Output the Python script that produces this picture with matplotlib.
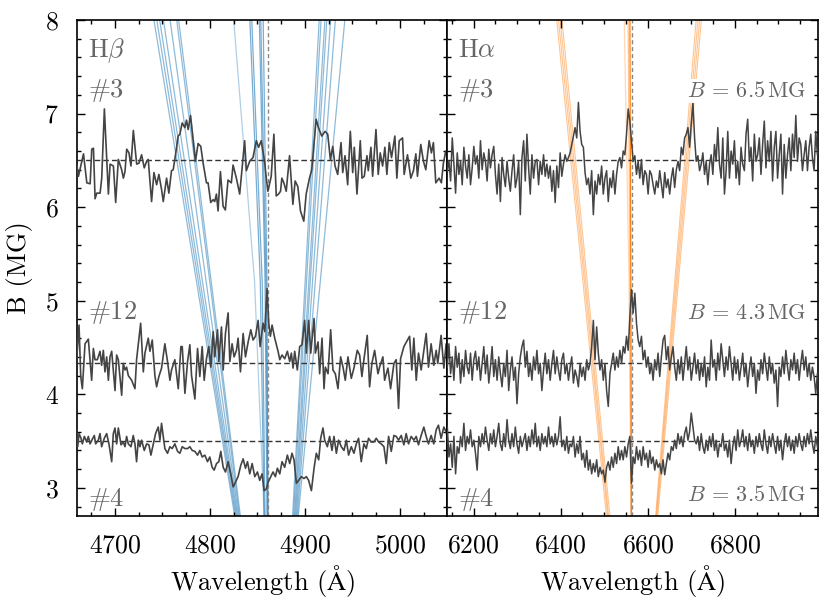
import numpy as np
import matplotlib
matplotlib.use('Agg')
import matplotlib.pyplot as plt
from matplotlib.ticker import MultipleLocator

plt.rcParams['font.family'] = 'serif'
plt.rcParams['font.serif'] = ['cmr10']
plt.rcParams['mathtext.fontset'] = 'cm'
plt.rcParams['axes.formatter.use_mathtext'] = True
plt.rcParams['axes.unicode_minus'] = False

# field strengths (MG) of the three spectra
fields = [6.5, 4.33, 3.5]
spec_names = ['#3', '#12', '#4']
field_labels = ['6.5', '4.3', '3.5']

hb_rest = 4861.3
ha_rest = 6562.8

# ---- H beta spectra (wavelength, offset from continuum in MG units)
hb3_wave = [4660, 4661.5, 4666.8, 4670.3, 4673.8, 4675.5, 4677.3, 4679, 4680.8, 4684.3,
            4686, 4688.8, 4693, 4694.8, 4698.3, 4700.7, 4703.5, 4707, 4708.8, 4710.5,
            4712.3, 4714.7, 4716.8, 4719.3, 4722.8, 4725.2, 4728, 4730.8, 4733.3, 4735,
            4738.5, 4741, 4743.8, 4746.2, 4749, 4750.8, 4754.3, 4756.7, 4759.5, 4761.3,
            4763.7, 4766.5, 4768.3, 4770.7, 4773.5, 4775.3, 4777, 4779.5, 4782.3, 4784.7,
            4787.5, 4790.3, 4792.8, 4796.3, 4798, 4800.8, 4803.3, 4805, 4806.8, 4808.5,
            4811, 4813.8, 4816.2, 4819, 4822.5, 4824.3, 4827.8, 4831.3, 4836.5, 4838.3,
            4841.8, 4845.3, 4848.8, 4851.2, 4854, 4857.5, 4859.3, 4861, 4864.5, 4867.3,
            4869.8, 4872.2, 4874.3, 4875.7, 4877.8, 4880.3, 4883.8, 4887.3, 4889.7, 4892.5,
            4895.3, 4898.8, 4901.3, 4904.8, 4907.2, 4911.8, 4914.2, 4917.7, 4921.2, 4924,
            4926.8, 4929.3, 4931.7, 4934.5, 4938, 4939.8, 4942.2, 4945, 4947.8, 4950.3,
            4952, 4954.8, 4958.3, 4960.1, 4962.5, 4965.3, 4966.7, 4969.5, 4971.3, 4974.8,
            4977.2, 4979.3, 4981.8, 4984.2, 4986.3, 4988.8, 4991.2, 4994.7, 4996.8, 4999.3,
            5002.8, 5004.5, 5008, 5011.5, 5014.3, 5016.8, 5018.5, 5022, 5024.8, 5027.3,
            5030.8, 5033.2, 5035.3, 5037.8, 5041.3, 5043.7, 5045.8, 5048.3, 5050.7]
hb3_flux = [-0.06, -0.17, 0.07, -0.24, -0.25, 0.12, 0.13, -0.41, -0.35, -0.35,
            -0.19, 0.55, -0.36, -0.04, -0.06, -0.45, 0.01, -0.10, -0.19, -0.12,
            0.12, 0.08, -0.06, 0.32, -0.04, -0.03, 0.06, -0.08, -0.01, 0.01,
            -0.44, -0.13, -0.26, -0.15, -0.31, -0.44, -0.19, -0.35, -0.11, -0.10,
            0.06, 0.26, 0.28, 0.40, 0.35, 0.43, 0.33, 0.48, 0.21, -0.01,
            0.18, 0.15, -0.03, -0.24, -0.24, -0.45, -0.42, -0.44, -0.36, -0.54,
            -0.12, -0.49, -0.53, -0.21, -0.24, -0.05, -0.19, -0.36, 0.21, -0.11,
            -0.01, 0.03, 0.21, 0.14, 0.21, -0.01, -0.19, -0.33, -0.17, 0.28,
            -0.38, -0.36, -0.33, -0.19, -0.24, -0.33, 0.05, -0.47, -0.22, -0.28,
            -0.54, -0.65, -0.36, -0.19, -0.10, 0.44, 0.35, 0.26, 0.31, 0.28,
            0.01, 0.15, -0.06, -0.15, 0.19, -0.13, 0.05, -0.26, 0.31, -0.13,
            0.14, -0.36, 0.21, -0.19, -0.17, 0.05, -0.11, 0.14, -0.17, 0.33,
            -0.15, 0.08, -0.06, 0.14, -0.15, 0.19, 0.03, 0.26, -0.19, 0.21,
            0.24, -0.15, 0.06, -0.19, -0.11, 0.07, -0.17, 0.17, -0.01, -0.10,
            0.21, 0.08, 0.19, -0.24, -0.19, -0.24, -0.03, 0.10, -0.01]

hb12_wave = [4659, 4662.1, 4663.9, 4665.6, 4668.4, 4671.9, 4673.7, 4675.4, 4677.2, 4678.9,
             4681.4, 4684.2, 4685.9, 4687.7, 4689.4, 4691.2, 4693, 4694.7, 4696.5, 4698.2,
             4700, 4701.7, 4703.5, 4707, 4708.7, 4710.5, 4712.2, 4714, 4717.5, 4721,
             4722.7, 4727, 4729.8, 4731.5, 4735, 4736.8, 4739.2, 4742, 4743.8, 4746.2,
             4749, 4752.5, 4755.3, 4757.8, 4759.5, 4763, 4766.6, 4769.4, 4770.8, 4773.6,
             4776.4, 4778.8, 4780.6, 4784.1, 4786.9, 4789.3, 4791.8, 4793.9, 4796.3, 4798.8,
             4800.9, 4803.4, 4805.1, 4807.9, 4809.3, 4812.1, 4813.9, 4816.3, 4819.1, 4820.9,
             4823.3, 4825.4, 4827.9, 4829.6, 4832.1, 4834.9, 4837.4, 4840.2, 4843, 4845.4,
             4847.9, 4850.7, 4852.8, 4855.9, 4857.7, 4860.1, 4861.9, 4863.6, 4865.4, 4868.2,
             4871.7, 4873.5, 4875.9, 4878.7, 4881.5, 4884, 4885.7, 4887.5, 4889.2, 4892,
             4894.5, 4896.9, 4899.7, 4901.5, 4903.9, 4906.1, 4909.6, 4911, 4913.8, 4915.5,
             4918, 4920.1, 4921.5, 4924.3, 4927.1, 4929.5, 4932, 4934.8, 4937.6, 4940.1,
             4942.5, 4945.3, 4948.8, 4951.6, 4955.1, 4957.6, 4960, 4962.1, 4965.6, 4968.1,
             4970.5, 4973.4, 4976.9, 4978.6, 4982.1, 4983.9, 4987.4, 4990.2, 4993.7, 4996.1,
             4998.6, 5000.7, 5004.2, 5010.2, 5012.6, 5014.7, 5017.2, 5019.6, 5022.4, 5027.7,
             5030.1, 5032.9, 5035.7, 5038.2, 5039.9, 5043.4, 5046.3, 5048.7, 5051.2]
hb12_flux = [-0.05, 0.41, -0.14, -0.27, 0.21, 0.26, 0.04, -0.18, 0.16, 0.04,
             0.04, 0.13, -0.02, 0.14, -0.09, 0.07, -0.18, 0.07, 0.13, -0.07,
             -0.29, 0.09, 0.04, -0.34, 0, -0.07, -0.04, -0.13, -0.18, -0.27,
             0.04, 0.43, -0.09, 0.11, 0.27, 0.13, 0.25, -0.13, -0.25, -0.14,
             -0.05, 0.21, 0.02, -0.18, -0.07, 0.04, -0.27, 0.18, 0.18, -0.32,
             0.02, 0.20, -0.13, -0.38, 0.16, -0.14, 0.18, -0.18, 0.05, 0.18,
             -0.04, 0.34, 0.07, 0.36, 0.02, 0.39, -0.07, 0.32, 0.54, 0.02,
             0.21, 0.07, 0.14, 0.27, -0.09, 0.32, 0.07, 0.23, 0.36, 0.25,
             0.29, 0.46, 0.18, 0.43, 0.34, 0.80, 0.43, 0.29, 0.41, 0.27,
             0.13, 0.04, 0.09, 0.05, 0.13, 0.02, 0.11, -0.05, 0.13, -0.07,
             0.18, 0.20, 0.46, 0.11, 0.46, 0.11, 0.48, 0.11, 0.23, -0.11,
             0.27, -0.27, -0.04, -0.11, 0.36, -0.07, -0.11, -0.27, 0.07, -0.04,
             -0.18, 0.07, -0.16, -0.05, 0.14, 0.09, -0.14, 0.04, 0.30, -0.25,
             0, 0.14, -0.11, -0.04, 0.07, -0.18, -0.05, -0.27, 0, 0.04,
             -0.48, 0.05, 0.18, 0.29, -0.07, 0.27, -0.18, 0.11, -0.07, 0.32,
             -0.04, 0.21, -0.02, 0.14, 0, 0.30, -0.05, 0.21, -0.02]

hb4_wave = [4658.9, 4660.7, 4662.1, 4664.2, 4665.6, 4667.7, 4670.2, 4671.9, 4673.7, 4676.1,
            4678.2, 4679.6, 4682.4, 4684.2, 4685.9, 4688.7, 4691.2, 4693.6, 4696.5, 4698.2,
            4700, 4701.7, 4703.5, 4706.3, 4708.7, 4710.5, 4712.2, 4714, 4716.8, 4719.2,
            4721, 4722.7, 4724.5, 4726.2, 4728, 4730.8, 4733.3, 4735.7, 4737.8, 4740.3,
            4742.7, 4745.5, 4747.3, 4749, 4750.8, 4752.5, 4755.3, 4757.8, 4760.2, 4763,
            4765.9, 4768.3, 4770.8, 4773.6, 4776.4, 4778.8, 4781.3, 4784.1, 4786.9, 4789.3,
            4791.8, 4794.6, 4797.4, 4799.8, 4802.3, 4804.4, 4806.9, 4809.3, 4811.4, 4813.9,
            4816.3, 4819.1, 4821.9, 4824.4, 4826.8, 4829.6, 4832.4, 4834.9, 4837.4, 4839.5,
            4841.9, 4844.4, 4847.2, 4850, 4852.4, 4854.9, 4857, 4859.4, 4861.2, 4864,
            4866.4, 4868.9, 4871, 4873.5, 4875.9, 4878.7, 4881.5, 4884, 4886.4, 4888.5,
            4891, 4893.4, 4896.2, 4899, 4901.5, 4903.9, 4906.8, 4909.6, 4912, 4914.5,
            4916.6, 4919, 4920.8, 4923.6, 4926, 4928.5, 4930.6, 4933.1, 4935.5, 4938.3,
            4941.1, 4943.6, 4946, 4948.8, 4951.6, 4954.1, 4956.5, 4959.3, 4962.1, 4964.6,
            4967, 4969.8, 4972.6, 4975.1, 4977.6, 4980.4, 4983.2, 4985.6, 4988.1, 4990.9,
            4993.7, 4996.1, 4998.6, 5001.4, 5004.2, 5006.6, 5009.1, 5011.9, 5014.7, 5017.2,
            5019.6, 5022.4, 5025.2, 5027.7, 5030.1, 5032.9, 5035.7, 5038.2, 5040.6, 5043.4,
            5046.3, 5048.7, 5051.2]
hb4_flux = [0.19, -0.06, 0.08, 0.03, -0.03, 0.05, -0.01, 0.05, -0.03, 0.02,
            0.06, -0.03, 0.01, 0.08, -0.06, 0.03, 0.08, -0.03, -0.22, 0.08,
            0.14, -0.03, 0.14, -0.04, -0.01, -0.06, 0.05, -0.03, -0.06, 0.06,
            -0.03, -0.22, 0.01, -0.06, 0.01, -0.10, -0.03, -0.04, -0.15, -0.03,
            0.08, 0.15, 0.01, 0.19, 0.05, -0.08, -0.13, -0.06, -0.08, -0.03,
            -0.11, -0.13, -0.06, -0.08, -0.08, -0.06, -0.10, -0.11, -0.15, -0.10,
            -0.17, -0.15, -0.22, -0.17, -0.28, -0.31, -0.24, -0.22, -0.11, -0.28,
            -0.33, -0.22, -0.35, -0.49, -0.44, -0.38, -0.26, -0.19, -0.29, -0.22,
            -0.35, -0.24, -0.38, -0.33, -0.42, -0.35, -0.53, -0.51, -0.44, -0.38,
            -0.33, -0.38, -0.29, -0.35, -0.22, -0.28, -0.15, -0.24, -0.13, -0.20,
            -0.45, -0.42, -0.38, -0.40, -0.38, -0.42, -0.53, -0.29, -0.13, -0.20,
            0.03, 0.14, 0.01, -0.06, 0.05, -0.10, 0.05, -0.13, 0.01, -0.06,
            -0.10, 0.01, -0.15, -0.06, -0.13, -0.03, 0.03, -0.22, -0.03, -0.08,
            0.03, -0.01, -0.01, 0.03, -0.01, -0.03, -0.06, -0.24, 0.05, -0.11,
            0.06, 0.05, 0.01, 0.06, -0.04, 0.08, -0.03, 0.05, 0.01, 0.05,
            -0.04, 0.06, 0.15, 0.05, -0.03, 0.06, -0.03, 0.12, 0.17, 0.03,
            0.15, 0.10, -0.03]

# ---- H alpha spectra, sampled on a uniform wavelength grid
ha_wave_start, ha_wave_end, ha_npix = 6139.8, 6989.3, 224
ha3_flux = [-0.11, -0.01, -0.22, 0.24, -0.04, -0.35, 0.08, -0.15, -0.01, -0.26,
            0.14, -0.06, -0.19, 0.06, -0.26, -0.08, 0.15, -0.04, 0.05, -0.19,
            0.21, -0.10, 0.08, -0.01, -0.22, 0.12, -0.08, 0.06, 0.15, -0.15,
            -0.36, -0.04, -0.44, 0.03, -0.15, -0.28, -0.01, -0.19, -0.33, -0.11,
            0.06, -0.29, -0.19, -0.01, -0.58, 0.03, 0.21, -0.22, 0.28, -0.08,
            -0.36, 0.06, -0.19, -0.01, 0.01, -0.26, -0.01, -0.15, 0.06, -0.17,
            -0.04, -0.19, -0.06, -0.33, -0.11, -0.45, -0.06, -0.29, 0.08, -0.17,
            -0.04, 0.06, -0.01, 0.03, 0.08, 0.17, 0.26, 0.35, 0.24, 0.62,
            0.31, 0.17, 0.14, -0.13, -0.26, -0.19, -0.36, -0.11, -0.58, -0.22,
            -0.36, -0.15, -0.26, -0.06, -0.36, -0.19, -0.11, -0.44, -0.19, -0.29,
            -0.11, -0.36, -0.15, -0.01, 0.03, -0.08, 0.10, 0.06, 0.28, 0.55,
            0.42, 0.21, -0.01, 0.05, -0.15, -0.01, -0.19, 0.01, -0.26, -0.11,
            -0.15, -0.36, -0.11, -0.15, -0.26, -0.36, -0.22, -0.29, -0.11, -0.26,
            -0.40, -0.13, -0.29, -0.20, -0.36, -0.19, -0.08, -0.29, -0.10, -0.01,
            -0.11, 0.14, 0.06, 0.24, 0.28, 0.35, 0.14, 0.39, 0.62, 0.24,
            -0.01, 0.05, -0.11, -0.04, 0.08, -0.15, -0.01, -0.26, -0.04, 0.06,
            -0.15, 0.17, -0.01, 0.35, -0.04, -0.19, 0.24, -0.36, -0.11, 0.31,
            -0.19, 0.10, -0.04, 0.21, -0.19, -0.01, -0.26, 0.14, -0.04, -0.11,
            0.28, 0.44, -0.01, 0.14, -0.22, 0.28, -0.01, 0.06, 0.24, -0.15,
            0.17, 0.42, -0.08, 0.21, -0.01, 0.31, -0.22, 0.14, 0.31, -0.19,
            0.06, 0.28, -0.36, 0.17, -0.19, 0.06, 0.24, -0.11, 0.28, 0.03,
            0.48, -0.01, 0.24, 0.17, -0.11, 0.06, 0.21, -0.11, 0.14, 0.28,
            0.03, -0.11, 0.31, 0.06]
ha12_flux = [-0.04, 0.21, -0.11, 0.07, -0.18, 0.18, -0.04, 0.11, -0.21, 0.04,
             -0.14, 0.14, -0.04, -0.11, 0.11, -0.18, 0.04, 0.13, -0.07, 0.07,
             -0.18, 0, 0.18, -0.11, 0.09, -0.21, -0.04, 0.18, -0.14, 0.04,
             -0.18, 0.07, -0.11, -0.25, 0, -0.14, 0.14, -0.29, -0.07, 0.07,
             -0.18, -0.04, -0.43, -0.11, 0.07, 0.18, 0.25, -0.04, 0.13, -0.14,
             0, -0.18, 0.07, -0.07, 0.14, -0.11, 0, -0.29, -0.07, 0.11,
             -0.11, 0.04, -0.18, 0, 0.14, -0.11, 0.07, -0.07, -0.18, 0.04,
             0.11, -0.11, 0, -0.18, -0.04, 0.07, -0.21, -0.07, -0.14, -0.25,
             0, -0.14, -0.04, -0.18, 0.04, -0.07, 0, 0.18, 0.46, 0.04,
             0.39, 0.11, -0.07, 0.04, -0.18, 0, -0.29, -0.46, -0.11, 0,
             0.11, -0.07, 0.07, -0.04, 0.14, 0, 0.18, 0.11, 0.29, 0.14,
             0.50, 0.79, 0.54, 0.75, 0.43, 0.25, 0.18, 0.29, 0.04, 0.14,
             -0.04, 0.07, -0.11, 0, -0.18, 0.04, -0.07, 0.11, -0.14, 0.07,
             0.25, 0.30, 0.04, 0.18, -0.07, 0.07, 0.18, -0.04, -0.18, 0.04,
             -0.11, 0.07, -0.18, 0, 0.18, -0.07, 0.07, -0.18, -0.04, 0.11,
             -0.11, 0.04, -0.18, 0, -0.14, 0.07, -0.25, -0.04, -0.18, 0.25,
             -0.04, 0.04, -0.18, 0.11, -0.07, 0.21, 0.04, -0.14, 0.07, -0.07,
             0.18, 0, -0.18, 0.07, -0.11, 0.04, -0.18, -0.04, 0.11, -0.14,
             0, -0.25, -0.07, 0.07, -0.14, 0, -0.32, -0.07, -0.18, 0.04,
             -0.11, 0.11, -0.04, -0.18, 0.07, -0.11, 0, -0.21, -0.07, -0.46,
             -0.04, -0.14, 0.07, -0.11, 0.14, -0.04, -0.18, 0.04, -0.07, 0.11,
             -0.11, 0.04, -0.18, 0, 0.14, -0.07, 0.07, -0.14, 0, -0.18,
             -0.04, -0.14, -0.32, -0.11]
ha4_flux = [0.15, -0.17, -0.03, -0.28, 0.05, -0.35, -0.06, -0.13, 0.05, -0.06,
            0.19, -0.10, 0.05, -0.03, 0.12, -0.06, 0.01, -0.13, -0.31, 0.05,
            -0.06, 0.08, -0.03, 0.15, 0.01, -0.10, 0.08, -0.03, 0.12, -0.06,
            0.05, 0.19, -0.03, -0.10, 0.08, -0.06, 0.23, 0.01, -0.08, 0.08,
            -0.06, 0.15, -0.03, -0.13, 0.05, -0.06, 0.01, 0.08, -0.10, 0.05,
            -0.06, 0.12, -0.03, 0.19, -0.06, 0.05, -0.10, 0.08, -0.03, 0.05,
            -0.06, 0.15, -0.03, 0.05, -0.06, 0.08, -0.04, 0.05, 0.26, -0.06,
            0.01, -0.10, 0.05, -0.13, -0.03, -0.06, 0.05, -0.17, -0.03, -0.13,
            0.05, -0.20, -0.13, -0.28, -0.10, -0.31, -0.20, -0.35, -0.24, -0.33,
            -0.20, -0.38, -0.28, -0.35, -0.31, -0.44, -0.28, -0.22, -0.31, -0.17,
            -0.28, -0.13, -0.24, -0.06, -0.20, -0.10, -0.20, -0.06, -0.17, -0.03,
            0.05, -0.45, -0.17, -0.24, -0.06, -0.20, -0.10, -0.26, -0.06, -0.20,
            -0.13, -0.28, -0.10, -0.24, -0.17, -0.31, -0.20, -0.28, -0.24, -0.35,
            -0.20, -0.36, -0.24, -0.13, -0.20, -0.06, -0.10, 0.01, -0.08, 0.08,
            -0.03, 0.05, -0.06, 0.08, 0.15, 0.01, 0.10, 0.30, 0.15, 0.01,
            -0.03, 0.05, -0.10, 0.08, -0.06, -0.13, 0.01, -0.10, 0.05, -0.06,
            0.08, -0.10, 0.01, -0.17, -0.03, -0.06, 0.08, -0.10, -0.03, -0.17,
            0.01, -0.24, -0.06, 0.05, -0.10, 0.12, -0.06, 0.01, 0.12, -0.06,
            0.05, -0.10, 0.08, -0.06, 0.01, -0.13, 0.05, -0.06, 0.08, -0.03,
            -0.10, 0.12, -0.03, -0.13, 0.05, -0.06, 0.08, -0.03, -0.13, 0.05,
            -0.10, 0.01, -0.20, -0.03, 0.08, -0.06, 0.05, -0.10, 0.01, -0.13,
            0.05, -0.06, 0.08, -0.03, -0.10, 0.05, -0.06, 0.08, -0.03, 0.12,
            -0.03, -0.13, 0.05, -0.06]

# ---- Zeeman component tracks: wavelength at B = 8 MG and at B = 2.7 MG
b_ends = [8.0, 2.7]
hb_sig_minus_top = [4741, 4744, 4747, 4751, 4758, 4765, 4767]
hb_sig_minus_bot = [4826, 4827, 4828, 4829, 4830, 4831, 4832]
hb_sig_plus_top = [4915, 4917, 4921, 4923, 4927, 4932, 4942]
hb_sig_plus_bot = [4887, 4888, 4889, 4890, 4891, 4892, 4893]
# pi components bend a little, so three points (B = 8, 5.2, 2.7)
b_pi = [8.0, 5.2, 2.7]
hb_pi = [[4825, 4847, 4857], [4842, 4853, 4857], [4844, 4855, 4858],
         [4852, 4858, 4860], [4853.5, 4859, 4861], [4856, 4860, 4861]]
hb_pi_alpha = [0.35, 0.6, 0.6, 0.6, 0.6, 0.6]

ha_sig_minus_top = [6391, 6395, 6399, 6403]
ha_sig_minus_bot = [6505, 6508, 6510, 6513]
ha_sig_plus_top = [6711, 6715, 6719, 6723]
ha_sig_plus_bot = [6618, 6619.5, 6621, 6623]
ha_pi = [[6546, 6557, 6561], [6555, 6559, 6562], [6559, 6561, 6562.5]]
ha_pi_alpha = [0.3, 0.45, 1.0]

blue = '#1f77b4'
orange = '#ff7f0e'
spec_col = '#444444'
txt_col = '#666666'

fig, (ax1, ax2) = plt.subplots(1, 2, sharey=True, figsize=(8.31, 6.07), dpi=100)
fig.subplots_adjust(left=0.0927, right=0.984, top=0.967, bottom=0.150, wspace=0)

# Zeeman tracks
for t, b in zip(hb_sig_minus_top, hb_sig_minus_bot):
    ax1.plot([t, b], b_ends, color=blue, lw=0.9, alpha=0.5, zorder=1)
for t, b in zip(hb_sig_plus_top, hb_sig_plus_bot):
    ax1.plot([t, b], b_ends, color=blue, lw=0.9, alpha=0.5, zorder=1)
for trk, a in zip(hb_pi, hb_pi_alpha):
    ax1.plot(trk, b_pi, color=blue, lw=0.9, alpha=a, zorder=1)

for t, b in zip(ha_sig_minus_top, ha_sig_minus_bot):
    ax2.plot([t, b], b_ends, color=orange, lw=0.8, alpha=0.45, zorder=1)
for t, b in zip(ha_sig_plus_top, ha_sig_plus_bot):
    ax2.plot([t, b], b_ends, color=orange, lw=0.8, alpha=0.45, zorder=1)
for trk, a in zip(ha_pi, ha_pi_alpha):
    ax2.plot(trk, b_pi, color=orange, lw=0.9, alpha=a, zorder=1)

# spectra
ha_wave = np.linspace(ha_wave_start, ha_wave_end, ha_npix)
hb_spec = [(hb3_wave, hb3_flux), (hb12_wave, hb12_flux), (hb4_wave, hb4_flux)]
ha_spec = [ha3_flux, ha12_flux, ha4_flux]

for (w, f), B in zip(hb_spec, fields):
    ax1.plot(w, B + np.array(f), color=spec_col, lw=1.2, zorder=3)
for f, B in zip(ha_spec, fields):
    ax2.plot(ha_wave, B + np.array(f), color=spec_col, lw=1.1, zorder=3)

for ax, rest in [(ax1, hb_rest), (ax2, ha_rest)]:
    for B in fields:
        ax.axhline(B, color='#333333', lw=1.0, ls=(0, (4, 2.2)), zorder=2)
    ax.axvline(rest, color='#888888', lw=1.0, ls=(0, (3, 2)), zorder=2)

# labels
label_y = [7.18, 4.81, 2.81]
right_y = [7.18, 4.81, 2.86]
ax1.text(0.03, 7.60, r'H$\beta$', transform=ax1.get_yaxis_transform(),
         fontsize=19, color=txt_col)
ax2.text(0.03, 7.60, r'H$\alpha$', transform=ax2.get_yaxis_transform(),
         fontsize=19, color=txt_col)
for ax in (ax1, ax2):
    for name, y in zip(spec_names, label_y):
        ax.text(0.03, y, r'$\#$' + name[1:], transform=ax.get_yaxis_transform(),
                fontsize=19, color=txt_col, zorder=5)
for lab, y in zip(field_labels, right_y):
    ax2.text(0.97, y, r'$B$ = %s$\,$MG' % lab, transform=ax2.get_yaxis_transform(),
             fontsize=16, color=txt_col, ha='right', zorder=5,
             bbox=dict(fc='white', ec='none', pad=1.5))

ax1.set_xlim(4660, 5050)
ax2.set_xlim(6140, 6990)
ax1.set_ylim(2.7, 8)
ax1.xaxis.set_major_locator(MultipleLocator(100))
ax1.xaxis.set_minor_locator(MultipleLocator(25))
ax2.xaxis.set_major_locator(MultipleLocator(200))
ax2.xaxis.set_minor_locator(MultipleLocator(50))
ax1.yaxis.set_major_locator(MultipleLocator(1))
ax1.yaxis.set_minor_locator(MultipleLocator(0.2))

for ax in (ax1, ax2):
    ax.tick_params(which='both', direction='in', top=True, right=True, width=1.0,
                   labelsize=18.5, pad=13)
    ax.tick_params(which='major', length=6)
    ax.tick_params(which='minor', length=3)
    for s in ax.spines.values():
        s.set_linewidth(1.2)
    ax.set_xlabel(r'Wavelength ($\mathrm{\AA}$)', fontsize=19, labelpad=4)
ax2.tick_params(labelleft=False)
ax1.set_ylabel('B (MG)', fontsize=19, labelpad=8)

fig.savefig('out.png', dpi=100)
